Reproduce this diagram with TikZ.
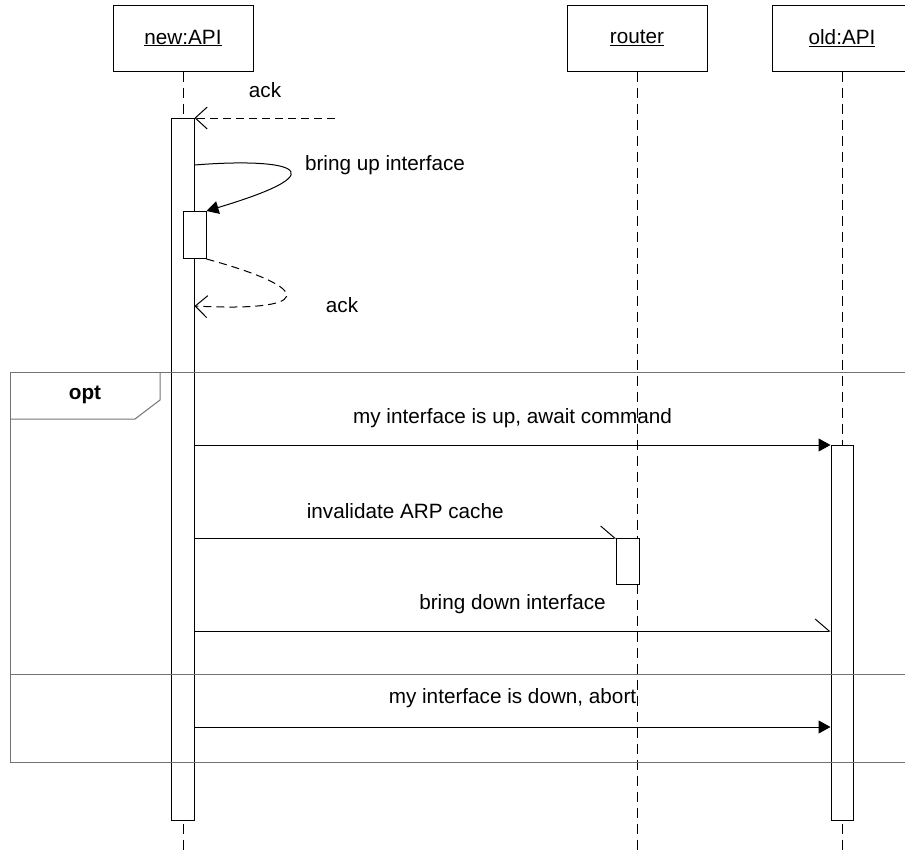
\documentclass[tikz,border=0pt]{standalone}
\usepackage{fontspec}
\setmainfont{Liberation Sans}
\usetikzlibrary{arrows.meta,positioning,calc}
\tikzset{
  head/.style      = {draw, line width=1pt, minimum width=140pt, minimum height=66pt, inner sep=0pt},
  actbar/.style    = {draw, line width=1pt, fill=white, minimum width=23pt, inner sep=0pt, anchor=north},
  lifeline/.style  = {line width=1pt, dash pattern=on 10pt off 6pt},
  msg/.style       = {line width=1pt, -{Triangle[length=12pt,width=13pt]}},
  async/.style     = {line width=1pt, -{Straight Barb[left,length=14pt,width=24pt]}},
  reply/.style     = {line width=1pt, dash pattern=on 8pt off 5pt, -{Straight Barb[length=12pt,width=22pt]}},
  frame/.style     = {draw=black!55, line width=1pt},
  lbl/.style       = {inner sep=0pt},
  every node/.style = {font=\fontsize{20.7}{24}\selectfont},
}
\begin{document}
\begin{tikzpicture}[x=1pt, y=-1pt]
  \useasboundingbox (0,0) rectangle (905,854);
  % heads and lifelines
  \node[head] (newhd) at (183,38) {\underline{new:API}};
  \node[head] (rthd)  at (637,38) {\underline{router}};
  \node[head] (oldhd) at (842,38) {\underline{old:API}};
  \coordinate (bottom) at (0,854);
  \draw[lifeline] (newhd.south) -- (newhd |- bottom);
  \draw[lifeline] (rthd.south) -- (rthd |- bottom);
  \draw[lifeline] (oldhd.south) -- (oldhd |- bottom);
  % activations
  \node[actbar, minimum height=702pt] (actnew) at (182.5,118) {};
  \node[actbar, minimum height=47pt]  (actsub) at (194.5,211) {};
  \node[actbar, minimum height=375pt, minimum width=22pt] (actold) at (842,445) {};
  \node[actbar, minimum height=46pt]  (actrt)  at (628,538) {};
  % message rows
  \coordinate (ackstart) at (335,118);
  \coordinate (selfy) at (0,165);
  \coordinate (backy) at (0,306);
  \coordinate (m1) at (0,445);
  \coordinate (m2) at (0,538);
  \coordinate (m3) at (0,631);
  \coordinate (m4) at (0,727);
  % before the frame
  \draw[reply] (ackstart) -- (actnew.north east);
  \node[lbl] (lack) at (265,90) {ack};
  \draw[msg] (actnew.east |- selfy) .. controls (280,158) and (350,168) .. (actsub.north east);
  \node[lbl] (lbring) at (385,165) {bring up interface};
  \draw[reply] (actsub.south east) .. controls (320,290) and (310,312) .. (actnew.east |- backy);
  \node[lbl] (lack2) at (342,305) {ack};
  % opt frame
  \draw[frame] (10,372) rectangle (920,762);
  \draw[frame] (10,674) -- (920,674);
  \draw[frame] (10,419) -- (135,419) -- (160,400) -- (160,372);
  \node[lbl, font=\fontsize{20.7}{24}\selectfont\bfseries] (opt) at (85,395) {opt};
  % messages inside
  \draw[msg] (actnew.east |- m1) -- (actold.west |- m1)
    node[lbl, midway, above=17pt] {my interface is up, await command};
  \draw[async] (actnew.east |- m2) -- (actrt.west |- m2)
    node[lbl, midway, above=19pt] {invalidate ARP cache};
  \draw[async] (actnew.east |- m3) -- (actold.west |- m3)
    node[lbl, midway, above=17pt] {bring down interface};
  \draw[msg] (actnew.east |- m4) -- (actold.west |- m4)
    node[lbl, midway, above=19pt] {my interface is down, abort};
\end{tikzpicture}
\end{document}
